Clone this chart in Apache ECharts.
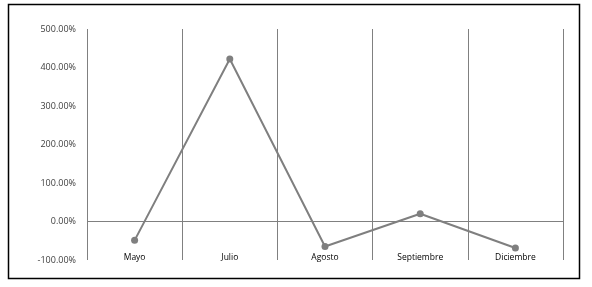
<!DOCTYPE html>
<html><head><meta charset="utf-8">
<script src="https://cdn.jsdelivr.net/npm/echarts@6/dist/echarts.min.js"></script>
<style>html,body{margin:0;padding:0;background:#fff}#c{width:592px;height:287px}</style>
</head><body><div id="c"></div>
<script>
var categories = ["Mayo", "Julio", "Agosto", "Septiembre", "Diciembre"];
var values = [-0.49, 4.22, -0.65, 0.20, -0.69];
var yTicks = [-1, 0, 1, 2, 3, 4, 5];

var chart = echarts.init(document.getElementById('c'));
chart.setOption({
  animation: false,
  graphic: [{
    type: 'rect', shape: {x: 8.5, y: 4.5, width: 571, height: 274},
    style: {fill: 'none', stroke: '#000', lineWidth: 1.5}, silent: true
  }],
  grid: {left: 87, right: 29, top: 29, bottom: 27},
  xAxis: {
    type: 'category', data: categories, boundaryGap: true,
    axisLine: {show: false, onZero: false}, axisTick: {show: false},
    splitLine: {show: true, lineStyle: {color: '#808080', width: 1}},
    axisLabel: {margin: -7, color: '#000', fontSize: 8.5, fontFamily: 'Open Sans', interval: 0}
  },
  yAxis: {
    type: 'value', min: yTicks[0], max: yTicks[yTicks.length - 1], interval: 1,
    axisLine: {show: false}, axisTick: {show: false}, splitLine: {show: false},
    axisLabel: {margin: 11, color: '#404040', fontSize: 9, fontFamily: 'Open Sans',
      formatter: function (v) { return (v * 100).toFixed(2) + '%'; }}
  },
  series: [{
    type: 'line', data: values, symbol: 'circle', symbolSize: 7,
    lineStyle: {color: '#7f7f7f', width: 2}, itemStyle: {color: '#7f7f7f'},
    markLine: {silent: true, symbol: 'none', label: {show: false},
      lineStyle: {color: '#808080', width: 1, type: 'solid'}, data: [{yAxis: 0}]}
  }]
});
</script></body></html>
